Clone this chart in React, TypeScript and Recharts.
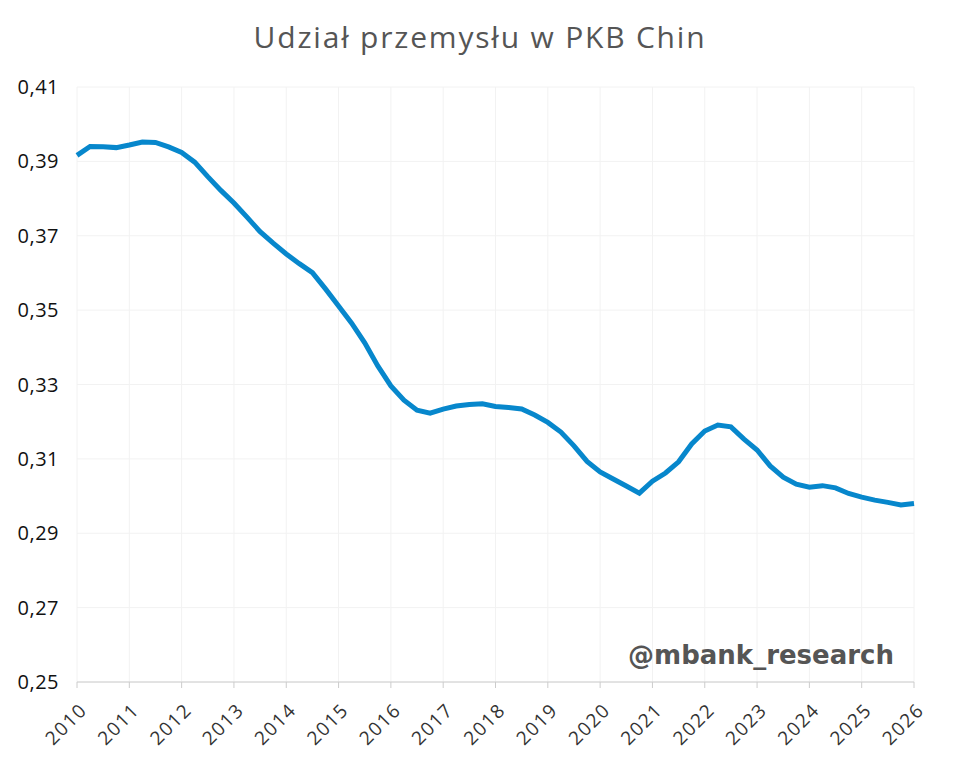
import { CartesianGrid, Line, LineChart, XAxis, YAxis } from "recharts";

// quarterly observations, 2010 Q1 .. 2026 Q1
const startYear = 2010;
const shares = [
  0.3916, 0.394, 0.3939, 0.3937, 0.3944, 0.3952, 0.3951, 0.3939,
  0.3924, 0.3898, 0.3859, 0.3822, 0.3788, 0.375, 0.3711, 0.368,
  0.3651, 0.3625, 0.3601, 0.3557, 0.3511, 0.3465, 0.3412, 0.335,
  0.3296, 0.3258, 0.3231, 0.3223, 0.3234, 0.3242, 0.3246, 0.3248,
  0.3241, 0.3238, 0.3234, 0.3218, 0.3198, 0.3172, 0.3135, 0.3093,
  0.3065, 0.3046, 0.3027, 0.3008, 0.304, 0.3062, 0.3092, 0.314,
  0.3175, 0.3191, 0.3186, 0.3153, 0.3124, 0.3081, 0.3051, 0.3032,
  0.3024, 0.3028, 0.3022, 0.3007, 0.2997, 0.2989, 0.2983, 0.2976,
  0.298,
];
const yearTicks = [
  2010, 2011, 2012, 2013, 2014, 2015, 2016, 2017, 2018, 2019, 2020, 2021,
  2022, 2023, 2024, 2025, 2026,
];
const valueTicks = [0.25, 0.27, 0.29, 0.31, 0.33, 0.35, 0.37, 0.39, 0.41];

const data = shares.map((v, i) => ({ t: startYear + i / 4, v }));

const font = "'Open Sans', sans-serif";

function YearTick({ x, y, payload }: any) {
  return (
    <g transform={`translate(${x},${y})`}>
      <text
        x={0}
        y={0}
        dx={-7}
        dy={23}
        textAnchor="end"
        transform="rotate(-45)"
        fill="#333"
        fontSize={19}
        letterSpacing={1.5}
        fontFamily={font}
      >
        {payload.value}
      </text>
    </g>
  );
}

export default function App() {
  return (
    <div style={{ position: "relative", width: 960, height: 765, background: "#fff" }}>
      <style>{`body{margin:0}`}</style>
      <div
        style={{
          position: "absolute",
          top: 16,
          left: 0,
          width: 960,
          textAlign: "center",
          fontFamily: font,
          fontSize: 30,
          letterSpacing: 1.8,
          color: "#555",
        }}
      >
        Udział przemysłu w PKB Chin
      </div>
      <LineChart
        width={960}
        height={765}
        data={data}
        margin={{ top: 87, right: 46, left: 17, bottom: 13 }}
      >
        <CartesianGrid stroke="#f2f2f2" />
        <XAxis
          dataKey="t"
          type="number"
          domain={[2010, 2026]}
          ticks={yearTicks}
          interval={0}
          height={70}
          tick={<YearTick />}
          stroke="#ccc"
          tickSize={6}
        />
        <YAxis
          domain={[0.25, 0.41]}
          ticks={valueTicks}
          interval={0}
          width={60}
          axisLine={false}
          tickLine={false}
          tickMargin={12}
          tickFormatter={(v: number) => v.toFixed(2).replace(".", ",")}
          tick={{ fill: "#111", fontSize: 20, fontFamily: font, letterSpacing: 0.5 }}
        />
        <Line
          dataKey="v"
          stroke="#0787cc"
          strokeWidth={5}
          dot={false}
          isAnimationActive={false}
        />
      </LineChart>
      <div
        style={{
          position: "absolute",
          top: 640,
          right: 66,
          fontFamily: "'DejaVu Sans', sans-serif",
          fontWeight: "bold",
          fontSize: 26,
          color: "#555",
        }}
      >
        @mbank_research
      </div>
    </div>
  );
}
